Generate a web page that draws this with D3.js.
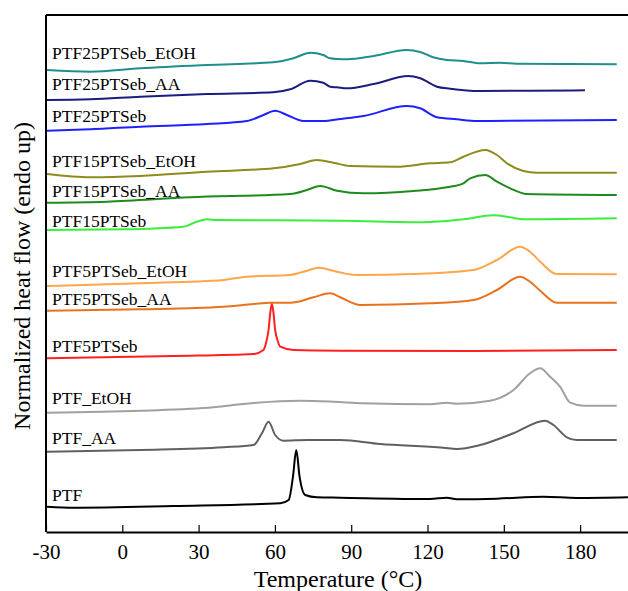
<!DOCTYPE html>
<html>
<head>
<meta charset="utf-8">
<script src="https://cdn.jsdelivr.net/npm/d3@7"></script>
<style>
  body { margin: 0; background: #fff; }
  svg { display: block; font-family: "Liberation Serif", "Times New Roman", serif; }
</style>
</head>
<body>
<svg id="dscSvg" width="628" height="591"></svg>
<script>
// sample names, top to bottom
const samples = [
  "PTF25PTSeb_EtOH", "PTF25PTSeb_AA", "PTF25PTSeb",
  "PTF15PTSeb_EtOH", "PTF15PTSeb_AA", "PTF15PTSeb",
  "PTF5PTSeb_EtOH", "PTF5PTSeb_AA", "PTF5PTSeb",
  "PTF_EtOH", "PTF_AA", "PTF"
];

const colors = [
  "#1f8f8c", "#1c1c80", "#2020ff",
  "#8c8c1e", "#1e8a1e", "#3cee3c",
  "#ffa54a", "#e8731e", "#ff2020",
  "#a0a0a0", "#606060", "#000000"
];

// label baseline, in heat flow units (same axis as the curves)
const labelLevels = [473, 442, 410, 365, 335, 305, 255, 227, 180, 128, 88, 31];

const xTicks = [-30, 0, 30, 60, 90, 120, 150, 180];

// [temperature °C, normalized heat flow a.u.] (offset curves)
const ptf25EtOH = [[-29.6, 462], [-12.6, 460.3], [7.1, 463.7], [33.3, 467], [59.4, 469.7], [67.3, 473.7], [73.9, 479.3], [79.0, 477], [81.7, 473.7], [84.4, 473], [88.3, 472.7], [98.8, 476], [111.9, 482], [117.1, 480], [122.2, 474.7], [127.6, 472], [134.1, 471], [140.7, 468.7], [148.6, 469.3], [155.1, 468.3], [173.3, 468], [194.4, 467.7]];
const ptf25AA = [[-29.6, 432], [-12.6, 432.7], [7.1, 435.3], [33.3, 438], [59.4, 439.7], [66.0, 442.7], [73.9, 451.3], [79.0, 449.3], [81.7, 445.3], [84.4, 444.7], [88.3, 443.7], [98.8, 448], [112.5, 456], [117.1, 453.7], [123.7, 445.3], [128.9, 443.3], [140.7, 441], [160.3, 441.3], [181.9, 441.7]];
const ptf25 = [[-29.6, 401.3], [-12.6, 402.7], [7.1, 405.3], [33.3, 408], [49.0, 411], [55.5, 417], [60.1, 421.3], [64.7, 417], [71.2, 411], [79.0, 411], [85.7, 413], [94.8, 416], [111.9, 426], [117.1, 423.7], [123.7, 414.7], [131.5, 412.7], [139.4, 411], [194.4, 412]];
const ptf15EtOH = [[-29.6, 358], [-12.6, 354.7], [7.1, 356], [33.3, 360.3], [59.5, 363.7], [70, 368], [76.5, 372], [83.0, 369.3], [89.6, 366], [108.0, 365.3], [121.0, 368.7], [128.9, 369.7], [134.1, 375.3], [142.7, 382], [147.3, 377], [151.2, 368.7], [157.7, 361], [163.0, 359.3], [194.4, 359.3]];
const ptf15AA = [[-29.6, 329.3], [-6.0, 330.3], [26.7, 334.7], [66.0, 338], [72.6, 342], [77.8, 346], [84.4, 341.3], [94.8, 338.7], [114.5, 341], [127.6, 344.7], [134.1, 348.7], [136.8, 353.7], [142.7, 357], [147.3, 350.3], [152.5, 343.7], [159.0, 338], [194.4, 337]];
const ptf15 = [[-29.6, 302], [0.5, 302.7], [24.1, 305.3], [29.3, 310.3], [33.3, 312.7], [37.2, 312], [85.7, 311.3], [118.4, 309.7], [134.1, 312.7], [145.9, 316.7], [152.5, 314.7], [157.7, 312.7], [194.4, 313.7]];
const ptf5EtOH = [[-29.6, 246], [7.1, 248.7], [39.8, 252], [49.0, 255.3], [66.0, 257], [72.6, 261.3], [77.1, 264.3], [84.4, 260.3], [92.2, 257], [114.5, 258], [138.1, 262], [147.3, 272], [156.4, 285.3], [160.3, 280.3], [164.3, 270.3], [170.8, 258], [194.4, 257.7]];
const ptf5AA = [[-29.6, 221.3], [7.1, 222.7], [39.8, 225.3], [51.6, 228], [58.2, 229.3], [66.0, 229.3], [75.2, 234.7], [81.7, 238.7], [85.7, 234.7], [93.5, 227], [121.0, 228.7], [138.1, 232], [147.3, 242], [156.4, 255.3], [160.3, 250.3], [164.3, 241.3], [170.8, 229.3], [194.4, 229.3]];
const ptf5 = [[-29.6, 173.7], [20.2, 176], [51.6, 178], [55.5, 182], [56.6, 190], [57.5, 202], [58.2, 220], [58.8, 228], [59.4, 220], [60.1, 202], [61.0, 192], [62.1, 185.3], [67.3, 182], [85.7, 181.3], [138.1, 181], [194.4, 182]];
const ptfEtOH = [[-29.6, 119.3], [7.1, 121.3], [35.9, 124.7], [43.7, 127], [52.9, 129.3], [69.9, 131.3], [83.0, 130.3], [94.8, 128.7], [121.0, 127.7], [127.6, 129.3], [131.5, 128.3], [144.6, 131.3], [153.8, 142], [160.3, 158.7], [164.3, 163.7], [168.2, 155.3], [172.1, 145.3], [176.1, 129.3], [181.3, 126.3], [194.4, 126.3]];
const ptfAA = [[-29.6, 80.3], [7.1, 82], [39.8, 84.7], [51.6, 87], [54.9, 98.7], [57.5, 110.3], [60.1, 97], [63.4, 91.3], [72.6, 92], [85.7, 92], [101.4, 88], [126.3, 84.3], [131.5, 83], [140.7, 87], [153.8, 98.7], [166.2, 111.3], [169.5, 107], [174.8, 94.7], [178.7, 92], [194.4, 92]];
const ptf = [[-29.6, 25.3], [-19.2, 24.3], [20.2, 26], [62.1, 28.7], [65.4, 32], [67.1, 55.3], [68.4, 82], [69.7, 55.3], [71.9, 37], [76.5, 34.7], [85.7, 34.3], [121.0, 33], [127.6, 34.3], [131.5, 32.7], [147.3, 33.3], [165.6, 35.3], [178.7, 34], [198.8, 34.7]];

const curves = [ptf25EtOH, ptf25AA, ptf25, ptf15EtOH, ptf15AA, ptf15, ptf5EtOH, ptf5AA, ptf5, ptfEtOH, ptfAA, ptf];

const svg = d3.select("#dscSvg"),
  margin = { top: 15, right: 0, bottom: 59, left: 46 },
  height = +svg.attr("height") - margin.top - margin.bottom;

const x = d3.scaleLinear().domain([-30, 200]).range([0, 585]),
  y = d3.scaleLinear().domain([0, 517]).range([height, 0]);

const g = svg.append("g").attr("transform", `translate(${margin.left},${margin.top})`);

const line = d3.line()
  .x(d => x(d[0]))
  .y(d => y(d[1]))
  .curve(d3.curveMonotoneX);

g.selectAll(".curve")
  .data(curves)
  .enter()
  .append("path")
  .attr("class", "curve")
  .attr("fill", "none")
  .attr("stroke", (d, i) => colors[i])
  .attr("stroke-width", 2)
  .attr("stroke-linejoin", "round")
  .attr("d", line);

g.selectAll(".label")
  .data(samples)
  .enter()
  .append("text")
  .attr("class", "label")
  .attr("x", 6)
  .attr("y", (d, i) => y(labelLevels[i]))
  .attr("font-size", 17.5)
  .text(d => d);

// bottom axis, ticks pointing inward
const xAxis = g.append("g")
  .attr("transform", `translate(0,${height})`)
  .call(d3.axisBottom(x)
    .tickValues(xTicks)
    .tickFormat(d => String(d))
    .tickSizeInner(-7)
    .tickSizeOuter(0)
    .tickPadding(12));
xAxis.select(".domain").attr("stroke-width", 2);
xAxis.selectAll(".tick line").attr("stroke-width", 1.2);
xAxis.selectAll("text")
  .attr("font-family", "Liberation Serif, Times New Roman, serif")
  .attr("font-size", 21)
  .attr("fill", "#000");

// left axis and top frame
g.append("line")
  .attr("x1", 0).attr("x2", 0)
  .attr("y1", 0).attr("y2", height)
  .attr("stroke", "#000").attr("stroke-width", 2);
g.append("line")
  .attr("x1", 0).attr("x2", 590)
  .attr("y1", 0).attr("y2", 0)
  .attr("stroke", "#000").attr("stroke-width", 2);

svg.append("text")
  .attr("x", 338)
  .attr("y", 587)
  .attr("text-anchor", "middle")
  .attr("font-size", 24)
  .text("Temperature (°C)");

svg.append("text")
  .attr("transform", "translate(30,276) rotate(-90)")
  .attr("text-anchor", "middle")
  .attr("font-size", 24)
  .text("Normalized heat flow (endo up)");
</script>
</body>
</html>
